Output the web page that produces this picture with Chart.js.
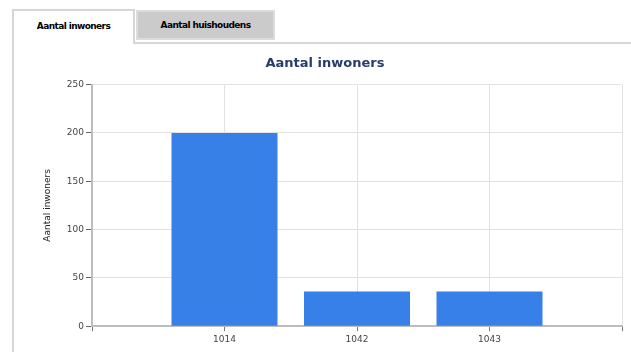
<!DOCTYPE html>
<html>
<head>
<meta charset="utf-8">
<script src="https://cdn.jsdelivr.net/npm/chart.js@4/dist/chart.umd.min.js"></script>
<style>
    body { margin: 0; background: #fff; width: 631px; height: 352px; overflow: hidden; position: relative; font-family: 'DejaVu Sans', sans-serif; }
    .tab { position: absolute; box-sizing: border-box; font-size: 9px; font-weight: bold; color: #000; text-align: center; letter-spacing: -0.6px; }
    #tab1 { left: 12px; top: 9px; width: 123px; height: 35px; background: #fff; border: 2px solid #d6d6d6; border-bottom: none; line-height: 31px; z-index: 2; }
    #tab2 { left: 136px; top: 10px; width: 139px; height: 30px; background: #cbcbcb; border: 2px solid #dcdcdc; line-height: 26px; }
    #panel { position: absolute; left: 12px; top: 42px; width: 640px; height: 330px; box-sizing: border-box; border: 2px solid #d6d6d6; }
    #wrap { position: absolute; left: 14px; top: 44px; }
</style>
</head>
<body>
<div id="panel"></div>
<div class="tab" id="tab1">Aantal inwoners</div>
<div class="tab" id="tab2">Aantal huishoudens</div>
<div id="wrap"><canvas id="chart" width="617" height="308"></canvas></div>
<script>
    const categories = ['1014', '1042', '1043'];
    const inwoners = [200, 36, 36];
    const yTicks = [0, 50, 100, 150, 200, 250];

    // empty slots at both ends so the bars sit on the inner grid lines
    const labels = [''].concat(categories, ['']);
    const values = [null].concat(inwoners, [null]);

    const tickFont = { family: 'DejaVu Sans, sans-serif', size: 9 };

    new Chart(document.getElementById('chart').getContext('2d'), {
        type: 'bar',
        data: {
            labels: labels,
            datasets: [{
                label: 'Aantal inwoners',
                data: values,
                backgroundColor: '#3680e8',
                borderWidth: 0,
                categoryPercentage: 1,
                barPercentage: 0.8
            }]
        },
        options: {
            responsive: false,
            animation: false,
            layout: { padding: { top: 2, left: 14, right: 9, bottom: 4 } },
            plugins: {
                legend: { display: false },
                tooltip: { enabled: false },
                title: {
                    display: true,
                    text: 'Aantal inwoners',
                    color: '#263d6d',
                    font: { family: 'DejaVu Sans, sans-serif', size: 13, weight: 'bold' },
                    padding: { top: 10, bottom: 13 }
                }
            },
            scales: {
                x: {
                    offset: false,
                    grid: { offset: false, color: '#e2e2e2', tickColor: '#777', tickLength: 5 },
                    border: { color: '#bdbdbd', width: 2 },
                    ticks: { color: '#444', font: tickFont, padding: 3, maxRotation: 0, autoSkip: false }
                },
                y: {
                    min: yTicks[0],
                    max: yTicks[yTicks.length - 1],
                    afterBuildTicks: s => { s.ticks = yTicks.map(v => ({ value: v })); },
                    afterFit: s => { s.width = 64; },
                    grid: { color: '#e2e2e2', tickColor: '#666', tickLength: 6 },
                    border: { color: '#bdbdbd', width: 2 },
                    ticks: { color: '#444', font: tickFont, padding: 2 },
                    title: {
                        display: true,
                        text: 'Aantal inwoners',
                        color: '#222',
                        font: tickFont,
                        padding: { top: 14, bottom: 0 }
                    }
                }
            }
        }
    });
</script>
</body>
</html>
